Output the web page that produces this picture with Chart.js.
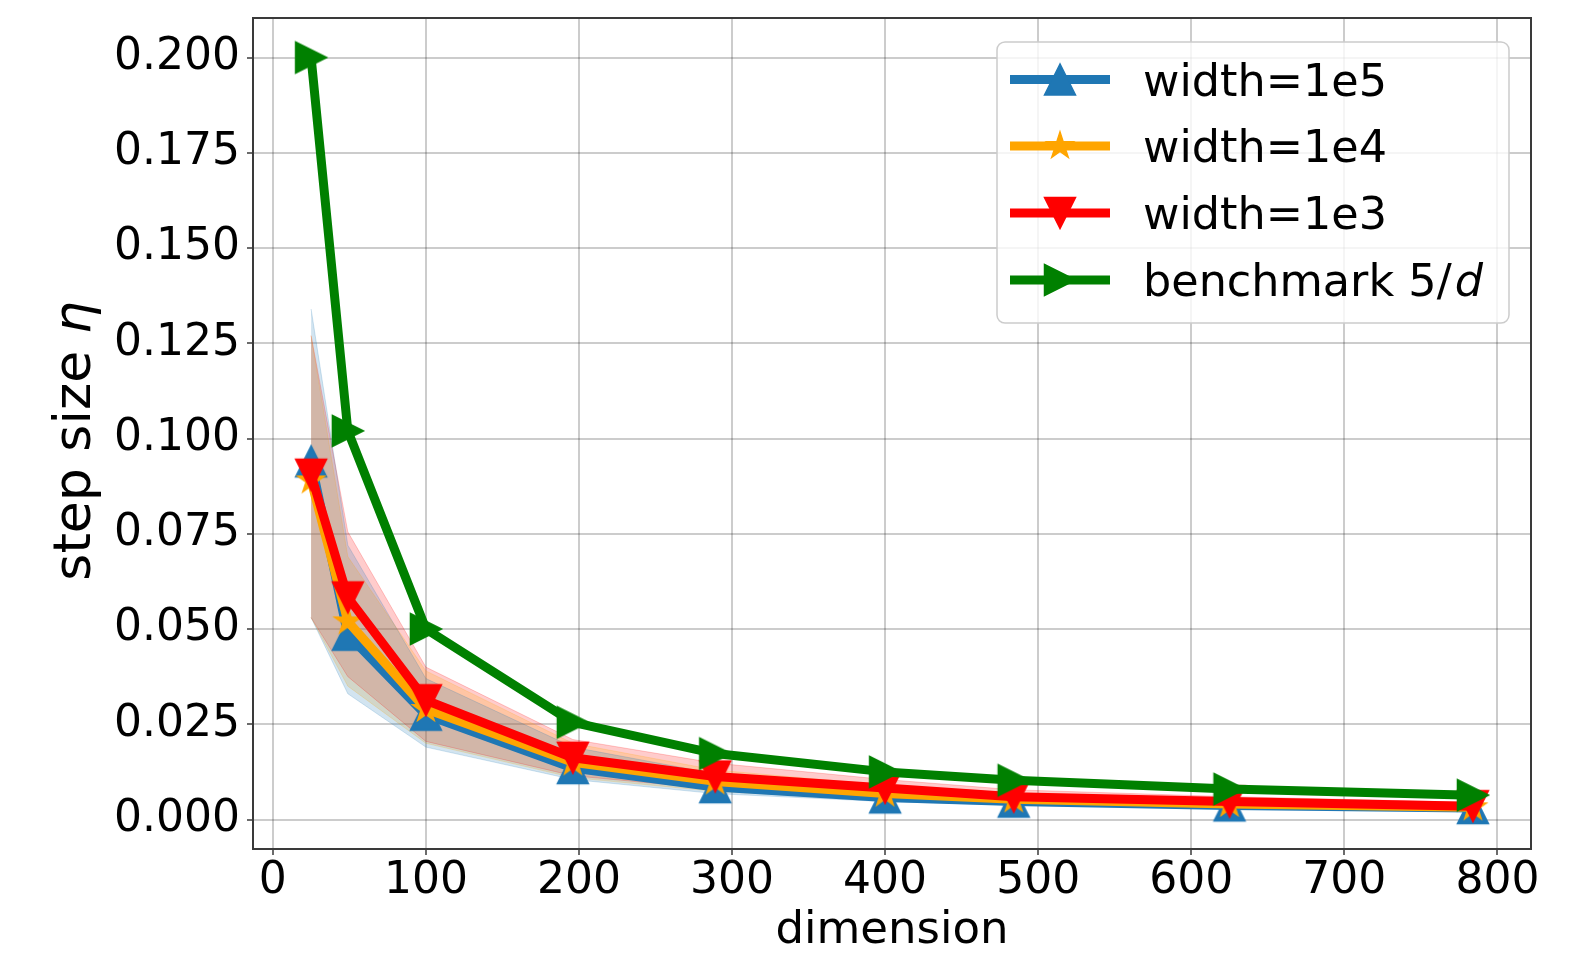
<!DOCTYPE html>
<html>
<head>
<meta charset="utf-8">
<script src="https://cdn.jsdelivr.net/npm/chart.js@4.4.1/dist/chart.umd.min.js"></script>
<style>
  body { margin: 0; background: #fff; }
  #wrap { width: 1588px; height: 953px; }
</style>
</head>
<body>
<div id="wrap"><canvas id="myChart" width="1588" height="953"></canvas></div>
<script>
// data
var dims = [25, 49, 100, 196, 289, 400, 484, 625, 784];

var width1e5 = [0.094, 0.0485, 0.0275, 0.0135, 0.0085, 0.0058, 0.0047, 0.0037, 0.0030];
var width1e5Lo = [0.053, 0.033, 0.019, 0.0105, 0.0068, 0.0047, 0.0038, 0.0030, 0.0023];
var width1e5Hi = [0.134, 0.072, 0.037, 0.019, 0.012, 0.008, 0.0062, 0.0046, 0.0036];

var width1e4 = [0.089, 0.052, 0.029, 0.015, 0.010, 0.0068, 0.0053, 0.0041, 0.0032];
var width1e4Lo = [0.053, 0.035, 0.020, 0.011, 0.0074, 0.0051, 0.0041, 0.0032, 0.0025];
var width1e4Hi = [0.127, 0.069, 0.039, 0.020, 0.013, 0.009, 0.007, 0.0052, 0.0040];

var width1e3 = [0.0905, 0.0583, 0.0313, 0.0162, 0.0113, 0.0083, 0.0060, 0.0047, 0.0035];
var width1e3Lo = [0.053, 0.0375, 0.0205, 0.0115, 0.0080, 0.0058, 0.0045, 0.0035, 0.0027];
var width1e3Hi = [0.127, 0.0755, 0.040, 0.021, 0.0148, 0.0105, 0.0078, 0.0060, 0.0045];

var benchmark = [0.200, 0.102, 0.050, 0.0255, 0.0173, 0.0125, 0.0103, 0.0080, 0.0064];

var labels = ['width=1e5', 'width=1e4', 'width=1e3', 'benchmark 5/d'];
var xTicks = [0, 100, 200, 300, 400, 500, 600, 700, 800];
var yTicks = [0, 0.025, 0.05, 0.075, 0.1, 0.125, 0.15, 0.175, 0.2];

var FONT = "'DejaVu Sans', sans-serif";
Chart.defaults.font.family = FONT;
Chart.defaults.color = '#000';

function pts(ys) {
    return dims.map(function(d, i) { return {x: d, y: ys[i]}; });
}

function drawMarker(g, shape, color, cx, cy) {
    var h = 15.5;
    g.save();
    g.translate(cx, cy);
    g.beginPath();
    if (shape === 'up') {
        g.moveTo(0, -h); g.lineTo(-h, h); g.lineTo(h, h);
    } else if (shape === 'down') {
        g.moveTo(0, h); g.lineTo(-h, -h); g.lineTo(h, -h);
    } else if (shape === 'right') {
        g.moveTo(h, 0); g.lineTo(-h, -h); g.lineTo(-h, h);
    } else {
        var r = 14, ri = r * 0.382;
        for (var k = 0; k < 10; k++) {
            var a = -Math.PI / 2 + k * Math.PI / 5;
            var rr = k % 2 ? ri : r;
            if (k === 0) g.moveTo(rr * Math.cos(a), rr * Math.sin(a));
            else g.lineTo(rr * Math.cos(a), rr * Math.sin(a));
        }
    }
    g.closePath();
    g.fillStyle = color;
    g.strokeStyle = color;
    g.lineWidth = 1.5;
    g.lineJoin = 'miter';
    g.fill();
    g.stroke();
    g.restore();
}

function makeMarker(shape, color) {
    var c = document.createElement('canvas');
    c.width = 36; c.height = 36;
    drawMarker(c.getContext('2d'), shape, color, 18, 18);
    return c;
}

var colors = ['#1f77b4', '#ffa500', '#ff0000', '#008000'];
var bandColors = ['rgba(31,119,180,0.2)', 'rgba(255,165,0,0.2)', 'rgba(255,0,0,0.2)'];
var shapes = ['up', 'star', 'down', 'right'];
var means = [width1e5, width1e4, width1e3, benchmark];
var lows = [width1e5Lo, width1e4Lo, width1e3Lo];
var highs = [width1e5Hi, width1e4Hi, width1e3Hi];

var datasets = [];
for (var i = 0; i < 3; i++) {
    datasets.push({
        data: pts(lows[i]), borderColor: bandColors[i], borderWidth: 1,
        pointRadius: 0, fill: false, order: 10
    });
    datasets.push({
        data: pts(highs[i]), borderColor: bandColors[i], borderWidth: 1,
        backgroundColor: bandColors[i], pointRadius: 0, fill: '-1', order: 10
    });
}
for (var j = 0; j < 4; j++) {
    datasets.push({
        label: labels[j],
        data: pts(means[j]),
        borderColor: colors[j],
        backgroundColor: colors[j],
        borderWidth: 9,
        borderJoinStyle: 'round',
        pointStyle: makeMarker(shapes[j], colors[j]),
        pointRadius: 16,
        pointHoverRadius: 16,
        fill: false,
        clip: false,
        order: 4 - j
    });
}

var decor = {
    id: 'decor',
    afterDraw: function(chart) {
        var g = chart.ctx, a = chart.chartArea;
        g.save();
        // frame
        g.strokeStyle = '#3a3a3a';
        g.lineWidth = 2;
        g.strokeRect(a.left, a.top, a.right - a.left, a.bottom - a.top);

        // axis titles
        g.fillStyle = '#000';
        g.font = '45px ' + FONT;
        g.textAlign = 'center';
        g.textBaseline = 'alphabetic';
        g.fillText('dimension', (a.left + a.right) / 2, 943);

        g.save();
        g.translate(90, 441);
        g.rotate(-Math.PI / 2);
        g.font = '52px ' + FONT;
        var t1 = 'step size ';
        var w1 = g.measureText(t1).width;
        g.font = 'italic 52px ' + FONT;
        var w2 = g.measureText('\u03b7').width;
        var x0 = -(w1 + w2) / 2;
        g.textAlign = 'left';
        g.font = '52px ' + FONT;
        g.fillText(t1, x0, 0);
        g.font = 'italic 52px ' + FONT;
        g.fillText('\u03b7', x0 + w1, 0);
        g.restore();

        // legend
        var bx = 997, by = 42, bw = 512, bh = 281;
        g.beginPath();
        g.roundRect(bx, by, bw, bh, 8);
        g.fillStyle = 'rgba(255,255,255,0.8)';
        g.fill();
        g.strokeStyle = '#cccccc';
        g.lineWidth = 1.5;
        g.stroke();

        var rows = [79.5, 146, 213, 280];
        for (var k = 0; k < labels.length; k++) {
            var y = rows[k];
            g.beginPath();
            g.moveTo(1010, y);
            g.lineTo(1110, y);
            g.strokeStyle = colors[k];
            g.lineWidth = 9;
            g.lineCap = 'butt';
            g.stroke();
            drawMarker(g, shapes[k], colors[k], 1060, y);

            g.fillStyle = '#000';
            g.textAlign = 'left';
            var txt = labels[k];
            var slash = txt.indexOf('/');
            g.font = '44.5px ' + FONT;
            if (slash < 0) {
                g.fillText(txt, 1143, y + 16);
            } else {
                var head = txt.slice(0, slash + 1);
                g.fillText(head, 1143, y + 16);
                var hw = g.measureText(head).width;
                g.font = 'italic 44.5px ' + FONT;
                g.fillText(txt.slice(slash + 1), 1143 + hw + 3, y + 16);
            }
        }
        g.restore();
    }
};

var ctx = document.getElementById('myChart').getContext('2d');
var myChart = new Chart(ctx, {
    type: 'line',
    data: { datasets: datasets },
    options: {
        responsive: false,
        animation: false,
        layout: { autoPadding: false, padding: { top: 18, right: 57, left: 0, bottom: 0 } },
        elements: { line: { tension: 0 } },
        plugins: {
            legend: { display: false },
            tooltip: { enabled: false },
            filler: { drawTime: 'beforeDatasetsDraw' }
        },
        scales: {
            x: {
                type: 'linear',
                min: -12.95,
                max: 821.95,
                afterFit: function(s) { s.height = 104; s.paddingLeft = 0; s.paddingRight = 0; },
                afterBuildTicks: function(s) { s.ticks = xTicks.map(function(v) { return {value: v}; }); },
                grid: { color: 'rgba(0,0,0,0.2)', lineWidth: 2, tickColor: '#3a3a3a', tickLength: 6, tickWidth: 1.5 },
                border: { display: false },
                ticks: {
                    autoSkip: false, maxRotation: 0, padding: 5,
                    font: { size: 44, lineHeight: 1 },
                    callback: function(v) { return String(v); }
                }
            },
            y: {
                type: 'linear',
                min: -0.00774,
                max: 0.21037,
                afterFit: function(s) { s.width = 253; s.paddingTop = 0; s.paddingBottom = 0; },
                afterBuildTicks: function(s) { s.ticks = yTicks.map(function(v) { return {value: v}; }); },
                grid: { color: 'rgba(0,0,0,0.2)', lineWidth: 2, tickColor: '#3a3a3a', tickLength: 6, tickWidth: 1.5 },
                border: { display: false },
                ticks: {
                    autoSkip: false, padding: 7,
                    font: { size: 44, lineHeight: 1 },
                    callback: function(v) { return v.toFixed(3); }
                }
            }
        }
    },
    plugins: [decor]
});
</script>
</body>
</html>
